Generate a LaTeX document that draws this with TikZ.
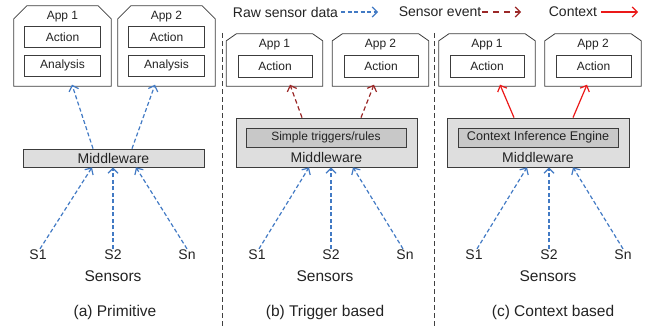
\documentclass[tikz,border=0pt]{standalone}
\usepackage{fontspec}
\setmainfont{Liberation Sans}
\usetikzlibrary{arrows.meta}
\definecolor{txt}{RGB}{35,35,35}
\definecolor{bord}{RGB}{60,60,60}
\definecolor{rawc}{RGB}{66,122,196}
\definecolor{evtc}{RGB}{155,40,40}
\definecolor{ctxc}{RGB}{235,25,25}
\definecolor{mwfill}{RGB}{222,222,222}
\definecolor{infill}{RGB}{200,200,200}
\tikzset{
  fs/.style={font=\fontsize{#1}{#1}\selectfont},
  appA/.style={draw=none, minimum width=97pt, minimum height=80pt, inner sep=0pt},
  appB/.style={draw=none, minimum width=96pt, minimum height=52pt, inner sep=0pt},
  appline/.style={draw=bord, line width=0.8pt, line join=miter},
  inbox/.style={draw=bord, line width=0.8pt, fill=white, minimum width=76pt, minimum height=21pt, inner sep=0pt, text=txt, fs=12},
  lbl/.style={text=txt, inner sep=1pt},
  mwbox/.style={draw=bord, line width=0.8pt, fill=mwfill, inner sep=0pt},
  engbox/.style={draw=bord, line width=0.8pt, fill=infill, minimum width=160pt, minimum height=19pt, inner sep=0pt, text=txt, fs=12},
  tipb/.style={-{Straight Barb[length=5pt,width=10pt]}},
  rawarrow/.style={tipb, draw=rawc, line width=1.2pt, dash pattern=on 4pt off 2.5pt},
  evtarrow/.style={tipb, draw=evtc, line width=1.2pt, dash pattern=on 4.5pt off 3pt},
  evtlegend/.style={tipb, draw=evtc, line width=1.2pt, dash pattern=on 6pt off 5pt},
  ctxarrow/.style={tipb, draw=ctxc, line width=1.2pt},
  sep/.style={draw=black!75, line width=0.7pt, dash pattern=on 5pt off 3pt},
}
% chamfered outline of an app node: #1 node name, #2 horizontal chamfer, #3 vertical chamfer
\newcommand{\appoutline}[3]{%
  \draw[appline] (#1.south west) -- ([yshift=-#3]#1.north west) -- ([xshift=#2]#1.north west)
    -- ([xshift=-#2]#1.north east) -- ([yshift=-#3]#1.north east) -- (#1.south east) -- cycle;}
\begin{document}
\begin{tikzpicture}[x=1pt,y=-1pt]
\useasboundingbox (0,0) rectangle (658,329);

% ---------- legend ----------
\node[lbl, fs=14] (legraw) at (285.5,12) {Raw sensor data};
\coordinate (legrawend) at (378,12);
\draw[rawarrow] ([xshift=2pt]legraw.east) -- (legrawend);
\node[lbl, fs=14] (legevt) at (440,12) {Sensor event};
\coordinate (legevtend) at (521,12);
\draw[evtlegend] (legevt.east) -- (legevtend);
\node[lbl, fs=14] (legctx) at (573,12) {Context};
\coordinate (legctxend) at (638,12);
\draw[ctxarrow] ([xshift=3pt]legctx.east) -- (legctxend);

% ---------- separators ----------
\coordinate (sep1t) at (222,33);
\coordinate (sep1b) at (222,327);
\coordinate (sep2t) at (434,33);
\coordinate (sep2b) at (434,327);
\draw[sep] (sep1t) -- (sep1b);
\draw[sep] (sep2t) -- (sep2b);

% ---------- (a) Primitive ----------
\node[appA] (a-app1) at (62.5,46) {};
\appoutline{a-app1}{13pt}{13pt}
\node[lbl, fs=12] (a-t1) at (62.5,17) {App 1};
\node[inbox] (a-act1) at (62.5,37) {Action};
\node[inbox] (a-ana1) at (62.5,65.5) {Analysis};
\node[appA] (a-app2) at (166.5,46) {};
\appoutline{a-app2}{13pt}{13pt}
\node[lbl, fs=12] (a-t2) at (166.5,17) {App 2};
\node[inbox] (a-act2) at (166.5,37) {Action};
\node[inbox] (a-ana2) at (166.5,65.5) {Analysis};
\node[mwbox, minimum width=181pt, minimum height=18pt, text=txt, fs=14] (a-mw) at (113.5,158) {Middleware};
\node[lbl, fs=14] (a-s1) at (38,255) {S1};
\node[lbl, fs=14] (a-s2) at (113,255) {S2};
\node[lbl, fs=14] (a-sn) at (187,255) {Sn};
\node[lbl, fs=15.5] (a-sens) at (113,276) {Sensors};
\node[lbl, fs=15.5] (a-cap) at (115,312) {(a) Primitive};
\draw[rawarrow] ([xshift=2pt]a-s1.north) -- ([xshift=-21.5pt]a-mw.south);
\draw[rawarrow] (a-s2.north) -- ([xshift=-0.5pt]a-mw.south);
\draw[rawarrow] (a-sn.north) -- ([xshift=22.5pt]a-mw.south);
\draw[rawarrow] ([xshift=-20.5pt]a-mw.north) -- ([xshift=9.5pt,yshift=1.5pt]a-app1.south);
\draw[rawarrow] ([xshift=18.5pt]a-mw.north) -- ([xshift=-11.5pt,yshift=1.5pt]a-app2.south);

% ---------- (b) Trigger based ----------
\node[appB] (b-app1) at (274.5,60) {};
\appoutline{b-app1}{10pt}{7pt}
\node[lbl, fs=12] (b-t1) at (274.5,45) {App 1};
\node[inbox, minimum width=74pt, minimum height=22pt] (b-act1) at (275,66) {Action};
\node[appB] (b-app2) at (380.5,60) {};
\appoutline{b-app2}{10pt}{7pt}
\node[lbl, fs=12] (b-t2) at (380.5,45) {App 2};
\node[inbox, minimum width=74pt, minimum height=22pt] (b-act2) at (381,66) {Action};
\node[mwbox, minimum width=181pt, minimum height=49pt] (b-mw) at (326.5,142.5) {};
\node[engbox] (b-eng) at (326,137.5) {Simple triggers/rules};
\node[lbl, fs=14] (b-mwt) at (326.5,157) {Middleware};
\node[lbl, fs=14] (b-s1) at (257,255) {S1};
\node[lbl, fs=14] (b-s2) at (331,255) {S2};
\node[lbl, fs=14] (b-sn) at (405,255) {Sn};
\node[lbl, fs=15.5] (b-sens) at (325,276) {Sensors};
\node[lbl, fs=15.5] (b-cap) at (325,312) {(b) Trigger based};
\draw[rawarrow] ([xshift=2pt]b-s1.north) -- ([xshift=-17.5pt]b-mw.south);
\draw[rawarrow] (b-s2.north) -- ([xshift=4.5pt]b-mw.south);
\draw[rawarrow] ([xshift=-2pt]b-sn.north) -- ([xshift=26.5pt]b-mw.south);
\draw[evtarrow] ([xshift=-24.5pt]b-mw.north) -- ([xshift=15.5pt,yshift=1.5pt]b-app1.south);
\draw[evtarrow] ([xshift=34.5pt]b-mw.north) -- ([xshift=-6.5pt,yshift=1.5pt]b-app2.south);

% ---------- (c) Context based ----------
\node[appB] (c-app1) at (487,60) {};
\appoutline{c-app1}{10pt}{7pt}
\node[lbl, fs=12] (c-t1) at (487,45) {App 1};
\node[inbox, minimum width=74pt, minimum height=22pt] (c-act1) at (487,66) {Action};
\node[appB] (c-app2) at (593,60) {};
\appoutline{c-app2}{10pt}{7pt}
\node[lbl, fs=12] (c-t2) at (593,45) {App 2};
\node[inbox, minimum width=75pt, minimum height=22pt] (c-act2) at (593.5,66) {Action};
\node[mwbox, minimum width=182pt, minimum height=49pt] (c-mw) at (538,142.5) {};
\node[engbox, fs=12.6] (c-eng) at (538,137.5) {Context Inference Engine};
\node[lbl, fs=14] (c-mwt) at (538,157) {Middleware};
\node[lbl, fs=14] (c-s1) at (474,255) {S1};
\node[lbl, fs=14] (c-s2) at (549,255) {S2};
\node[lbl, fs=14] (c-sn) at (623,255) {Sn};
\node[lbl, fs=15.5] (c-sens) at (548,276) {Sensors};
\node[lbl, fs=15.5] (c-cap) at (553,312) {(c) Context based};
\draw[rawarrow] ([xshift=3pt]c-s1.north) -- ([xshift=-11pt]c-mw.south);
\draw[rawarrow] (c-s2.north) -- ([xshift=11pt]c-mw.south);
\draw[rawarrow] (c-sn.north) -- ([xshift=35pt]c-mw.south);
\draw[ctxarrow] ([xshift=-24pt]c-mw.north) -- ([xshift=13pt,yshift=1.5pt]c-app1.south);
\draw[ctxarrow] ([xshift=35pt]c-mw.north) -- ([xshift=-6pt,yshift=1.5pt]c-app2.south);
\end{tikzpicture}
\end{document}
